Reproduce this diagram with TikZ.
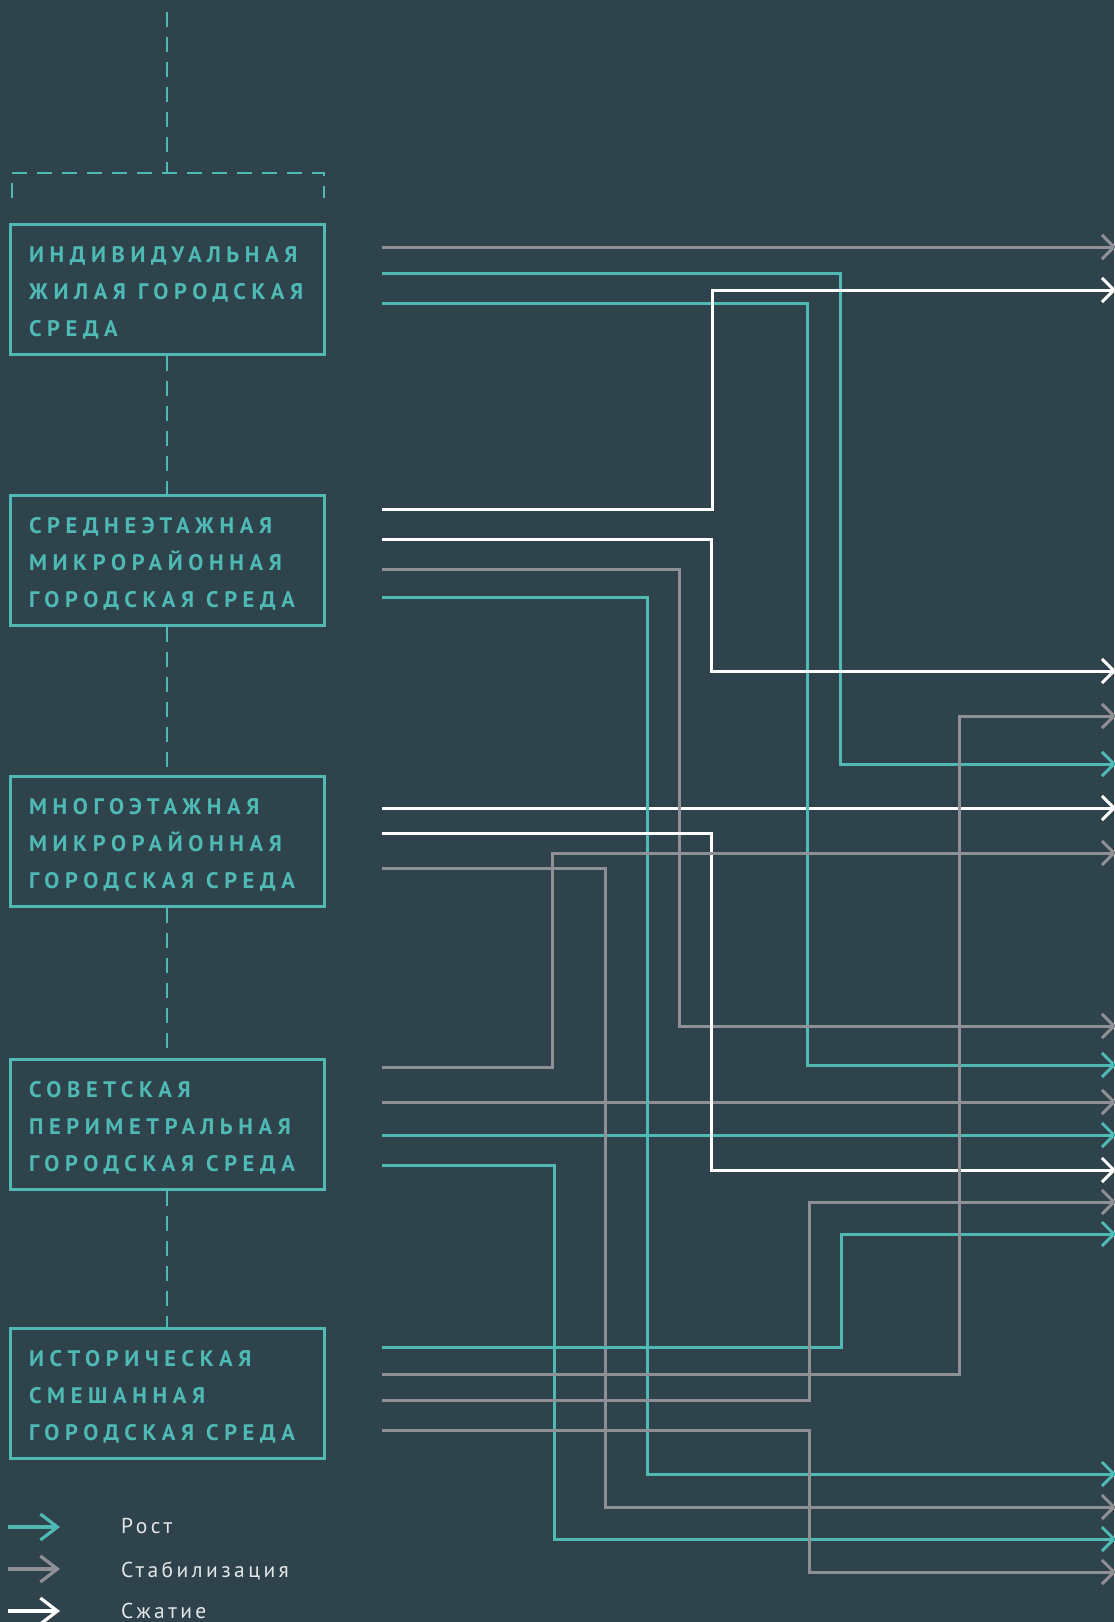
\documentclass[tikz,border=0pt]{standalone}
\usepackage{fontspec}
\setmainfont{PT Sans}
\newfontfamily\envfont[LetterSpace=25]{PT Sans}
\newfontfamily\keyfont[LetterSpace=16]{PT Sans}
\usetikzlibrary{arrows.meta,positioning}

\definecolor{slatebg}{HTML}{2E434C}
\definecolor{tealc}{HTML}{4FB9B4}
\definecolor{greyc}{HTML}{8E9095}
\definecolor{keytext}{HTML}{E4E7E8}

\newcommand{\wgap}{\hspace{12pt}}
\newcommand{\lift}{\rule{0pt}{24pt}}

\tikzset{
  envbox/.style={draw=tealc, line width=3pt, minimum width=314pt, minimum height=130pt,
    inner xsep=19pt, text width=276pt, align=left, text=tealc,
    font=\envfont\bfseries\fontsize{22.5}{37}\selectfont},
  linkdash/.style={draw=tealc, line width=2.8pt, dash pattern=on 15pt off 10pt},
  flow/.style={line width=3pt, -{Straight Barb[length=12pt,width=24pt]}},
  growline/.style={flow, draw=tealc},
  stableline/.style={flow, draw=greyc},
  shrinkline/.style={flow, draw=white},
  keyarrow/.style={line width=3.2pt, -{Straight Barb[length=17pt,width=26pt]}},
  keylabel/.style={anchor=base west, inner sep=0pt, text=keytext,
    font=\keyfont\fontsize{21.5}{26}\selectfont},
}

\begin{document}
\begin{tikzpicture}[x=1pt, y=-1pt]
  \fill[slatebg] (0,0) rectangle (1114,1622);
  \useasboundingbox (0,0) rectangle (1114,1622);

  % environment types
  \node[envbox] (b1) at (167,289) {\lift ИНДИВИДУАЛЬНАЯ\\ЖИЛАЯ\wgap ГОРОДСКАЯ\\СРЕДА};
  \node[envbox] (b2) at (167,560) {\lift СРЕДНЕЭТАЖНАЯ\\МИКРОРАЙОННАЯ\\ГОРОДСКАЯ\wgap СРЕДА};
  \node[envbox] (b3) at (167,841) {\lift МНОГОЭТАЖНАЯ\\МИКРОРАЙОННАЯ\\ГОРОДСКАЯ\wgap СРЕДА};
  \node[envbox] (b4) at (167,1124) {\lift СОВЕТСКАЯ\\ПЕРИМЕТРАЛЬНАЯ\\ГОРОДСКАЯ\wgap СРЕДА};
  \node[envbox] (b5) at (167,1393) {\lift ИСТОРИЧЕСКАЯ\\СМЕШАННАЯ\\ГОРОДСКАЯ\wgap СРЕДА};

  % dashed spine and bracket
  \coordinate (topend) at (167,12);
  \coordinate (brace) at (167,173);
  \draw[linkdash] (topend) -- (brace);
  \draw[linkdash] (12,198) -- (12,173) -- (324,173) -- (324,198);
  \foreach \u/\v in {b1/b2,b2/b3,b3/b4,b4/b5}
    \draw[linkdash] (\u.south) -- (\v.north);

  % start points next to the boxes
  \foreach \n/\y in {s11/247,s12/273,s13/303,
      s21/509,s22/539,s23/569,s24/597,
      s31/808,s32/833,s33/868,
      s41/1067,s42/1102,s43/1135,s44/1165,
      s51/1347,s52/1374,s53/1400,s54/1430}
    \coordinate (\n) at (382,\y);
  % end points at the right edge
  \foreach \n/\y in {r1/247,r2/290,r3/671,r4/716,r5/764,r6/808,r7/853,
      r8/1026,r9/1065,r10/1102,r11/1135,r12/1170,r13/1202,r14/1234,
      r15/1474,r16/1507,r17/1539,r18/1572}
    \coordinate (\n) at (1116,\y);

  % straight flows
  \draw[stableline] (s11) -- (r1);
  \draw[shrinkline] (s31) -- (r6);
  \draw[stableline] (s42) -- (r10);
  \draw[growline] (s43) -- (r11);
  % bent flows: start / column / end / kind
  \foreach \s/\bx/\r/\kind in {s12/840/r5/growline, s13/807/r9/growline,
      s21/712/r2/shrinkline, s22/711/r3/shrinkline, s23/679/r8/stableline,
      s24/647/r15/growline, s32/711/r12/shrinkline, s33/605/r16/stableline,
      s41/552/r7/stableline, s44/554/r17/growline, s51/841/r14/growline,
      s52/959/r4/stableline, s53/809/r13/stableline, s54/809/r18/stableline} {
    \coordinate (col) at (\bx,0);
    \draw[\kind] (\s) -| (\r -| col) -- (\r);
  }

  % legend
  \node[keylabel] (kgrow) at (121,1533) {Рост};
  \node[keylabel] (kstable) at (121,1577) {Стабилизация};
  \node[keylabel] (kshrink) at (121,1618) {Сжатие};
  \foreach \k/\c/\y in {kgrow/tealc/1527, kstable/greyc/1569, kshrink/white/1611} {
    \coordinate (\k-tail) at (8,\y);
    \coordinate (\k-head) at (60,\y);
    \draw[keyarrow, draw=\c] (\k-tail) -- (\k-head);
  }
\end{tikzpicture}
\end{document}
